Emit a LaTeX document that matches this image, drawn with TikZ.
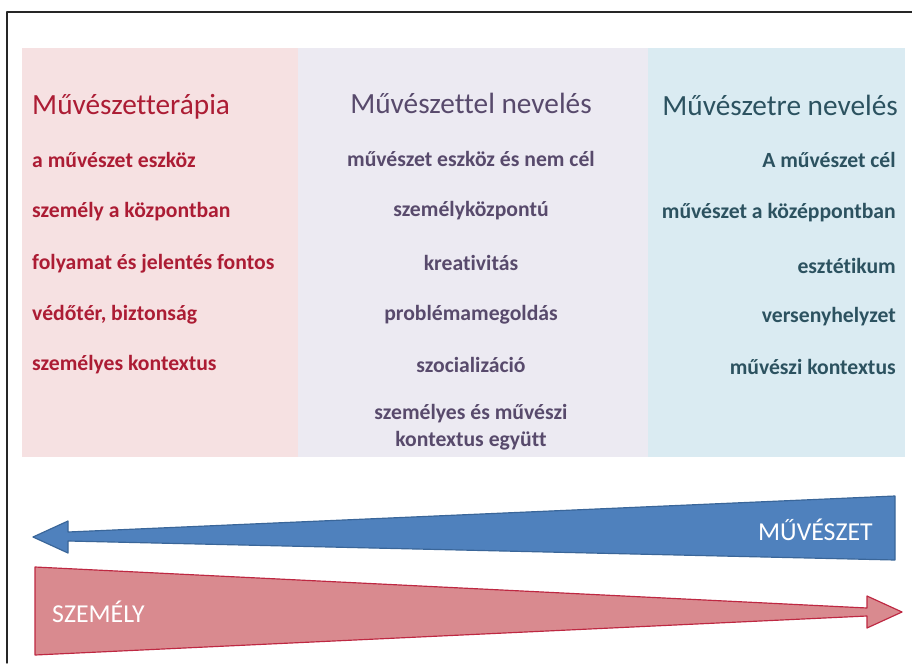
\documentclass[tikz,border=0pt]{standalone}
\usepackage{fontspec}
\setmainfont{Carlito}[Ligatures=NoCommon]
\definecolor{panelred}{RGB}{246,225,226}
\definecolor{panelviolet}{RGB}{236,234,242}
\definecolor{panelblue}{RGB}{218,235,242}
\definecolor{tered}{RGB}{172,28,52}
\definecolor{teviolet}{RGB}{88,74,108}
\definecolor{teblue}{RGB}{44,82,96}
\definecolor{arrblue}{RGB}{79,129,189}
\definecolor{arrblueline}{RGB}{58,102,153}
\definecolor{arrred}{RGB}{217,138,143}
\definecolor{arrredline}{RGB}{190,40,66}

\begin{document}
\begin{tikzpicture}[line cap=round,line join=round,x=0.03cm,y=-0.03cm,
    title/.style={font=\fontsize{25}{28}\selectfont, inner sep=0pt},
    item/.style={font=\bfseries\fontsize{18.5}{23}\selectfont, inner sep=0pt},
    band/.style={font=\fontsize{22}{24}\selectfont, text=white, inner sep=0pt}]
                    \useasboundingbox (0,0) rectangle (912,663);
                    \fill[white] (0,0) rectangle (912,663);
                    \draw [line width=1.2pt, black!85] (7,663) -- (7,12) -- (912,12);

                    \fill[panelred] (22,48) rectangle (298,457);
                    \fill[panelviolet] (298,48) rectangle (648,457);
                    \fill[panelblue] (648,48) rectangle (905,457);

                    \node[title, text=tered, anchor=west] (tera) at (32,107) {Művészetterápia};
                    \node[item, text=tered, anchor=west] (tera1) at (32,160) {a művészet eszköz};
                    \node[item, text=tered, anchor=west] (tera2) at (32,212) {személy a központban};
                    \node[item, text=tered, anchor=west] (tera3) at (32,264) {folyamat és jelentés fontos};
                    \node[item, text=tered, anchor=west] (tera4) at (32,315) {védőtér, biztonság};
                    \node[item, text=tered, anchor=west] (tera5) at (32,365) {személyes kontextus};

                    \node[title, text=teviolet] (vel) at (471,103) {Művészettel nevelés};
                    \node[item, text=teviolet] (vel1) at (471,159) {művészet eszköz és nem cél};
                    \node[item, text=teviolet] (vel2) at (471,211) {személyközpontú};
                    \node[item, text=teviolet] (vel3) at (471,263) {kreativitás};
                    \node[item, text=teviolet] (vel4) at (471,315) {problémamegoldás};
                    \node[item, text=teviolet] (vel5) at (471,365) {szocializáció};
                    \node[item, text=teviolet, align=center] (vel6) at (471,427) {személyes és művészi\\kontextus együtt};

                    \node[title, text=teblue, anchor=east] (re) at (898,105) {Művészetre nevelés};
                    \node[item, text=teblue, anchor=east] (re1) at (896,160) {A művészet cél};
                    \node[item, text=teblue, anchor=east] (re2) at (896,213) {művészet a középpontban};
                    \node[item, text=teblue, anchor=east] (re3) at (896,266) {esztétikum};
                    \node[item, text=teblue, anchor=east] (re4) at (896,317) {versenyhelyzet};
                    \node[item, text=teblue, anchor=east] (re5) at (896,367) {művészi kontextus};

                    \filldraw [fill=arrblue, draw=arrblueline, line width=1pt] (895,496) -- (895,560) -- (68,541) -- (68,553) -- (33,537) -- (68,521) -- (68,532) -- cycle;
                    \node[band, anchor=east] (art) at (873,530) {MŰVÉSZET};

                    \filldraw [fill=arrred, draw=arrredline, line width=1pt] (35,567) -- (867,608) -- (867,596) -- (902,612) -- (867,628) -- (867,616) -- (35,655) -- cycle;
                    \node[band, anchor=west] (pers) at (52,612) {SZEMÉLY};
                \end{tikzpicture}
\end{document}
